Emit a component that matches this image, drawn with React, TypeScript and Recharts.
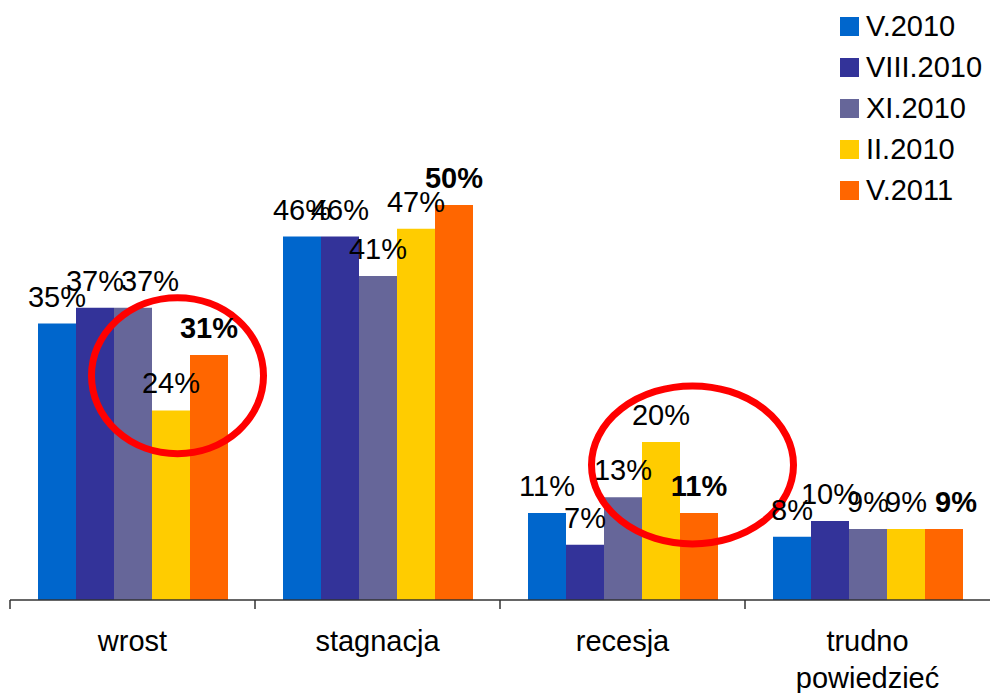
import { Bar, BarChart, LabelList, ReferenceDot, XAxis, YAxis } from "recharts";

const categories = ["wrost", "stagnacja", "recesja", "trudno powiedzieć"];
const seriesNames = ["V.2010", "VIII.2010", "XI.2010", "II.2010", "V.2011"];
const seriesColors = ["#0066CC", "#333399", "#666699", "#FFCC00", "#FF6600"];

const v2010 = [35, 46, 11, 8];
const viii2010 = [37, 46, 7, 10];
const xi2010 = [37, 41, 13, 9];
const ii2010 = [24, 47, 20, 9];
const v2011 = [31, 50, 11, 9];

const seriesValues = [v2010, viii2010, xi2010, ii2010, v2011];

const data = categories.map((name, i) => {
  const row: Record<string, string | number> = { name };
  seriesNames.forEach((s, j) => {
    row[s] = seriesValues[j][i];
  });
  return row;
});

const FONT = "'Liberation Sans', Arial, sans-serif";
const FS = 29;

// labels that were nudged sideways in the original
const labelNudge: Record<string, number> = { "XI.2010|0": 17, "V.2011|3": 12 };

function CategoryTick(props: any) {
  const { x, y, payload } = props;
  const half = payload.offset ?? 122.5;
  const words = String(payload.value).split(" ");
  return (
    <g>
      <line x1={x - half} x2={x - half} y1={y} y2={y + 9} stroke="#333" strokeWidth={1.5} />
      <text x={x} y={y + 51} textAnchor="middle" fontFamily={FONT} fontSize={FS} fill="#000">
        {words.map((w, i) => (
          <tspan key={i} x={x} dy={i === 0 ? 0 : 37}>
            {w}
          </tspan>
        ))}
      </text>
    </g>
  );
}

function makeLabel(series: string, bold: boolean) {
  return (p: any) => {
    const dx = labelNudge[`${series}|${p.index}`] ?? 0;
    return (
      <text
        x={p.x + p.width / 2 + dx}
        y={p.y - 17}
        textAnchor="middle"
        fontFamily={FONT}
        fontSize={FS}
        fontWeight={bold ? "bold" : "normal"}
        fill="#000"
      >
        {`${p.value}%`}
      </text>
    );
  };
}

function LegendBox() {
  return (
    <div style={{ position: "absolute", left: 840, top: 6, fontFamily: FONT, fontSize: FS, color: "#000" }}>
      {seriesNames.map((s, i) => (
        <div key={s} style={{ display: "flex", alignItems: "center", height: 41, whiteSpace: "nowrap" }}>
          <span
            style={{ width: 19, height: 19, background: seriesColors[i], marginRight: 7, display: "inline-block" }}
          />
          <span>{s}</span>
        </div>
      ))}
    </div>
  );
}

function ring(dx: number, rx: number, ry: number) {
  return (p: any) => (
    <ellipse cx={p.cx + dx} cy={p.cy} rx={rx} ry={ry} fill="none" stroke="#FF0000" strokeWidth={7} />
  );
}

export default function App() {
  return (
    <div style={{ position: "absolute", left: 0, top: 0, width: 990, height: 693, background: "#fff" }}>
      <BarChart
        width={990}
        height={693}
        data={data}
        margin={{ top: 126, right: 0, left: 10, bottom: 0 }}
        barCategoryGap={28}
        barGap={0}
      >
        <XAxis
          dataKey="name"
          height={93}
          tickSize={0}
          tickMargin={0}
          tickLine={false}
          axisLine={{ stroke: "#333", strokeWidth: 1.5 }}
          tick={<CategoryTick />}
          interval={0}
        />
        <YAxis hide domain={[0, 60]} />
        {seriesNames.map((s, i) => (
          <Bar key={s} dataKey={s} fill={seriesColors[i]} isAnimationActive={false}>
            <LabelList dataKey={s} content={makeLabel(s, i === 4)} />
          </Bar>
        ))}
        <ReferenceDot x="wrost" y={28.4} r={0} shape={ring(45, 86, 78)} />
        <ReferenceDot x="recesja" y={17.1} r={0} shape={ring(70, 101, 79)} />
      </BarChart>
      <LegendBox />
    </div>
  );
}
